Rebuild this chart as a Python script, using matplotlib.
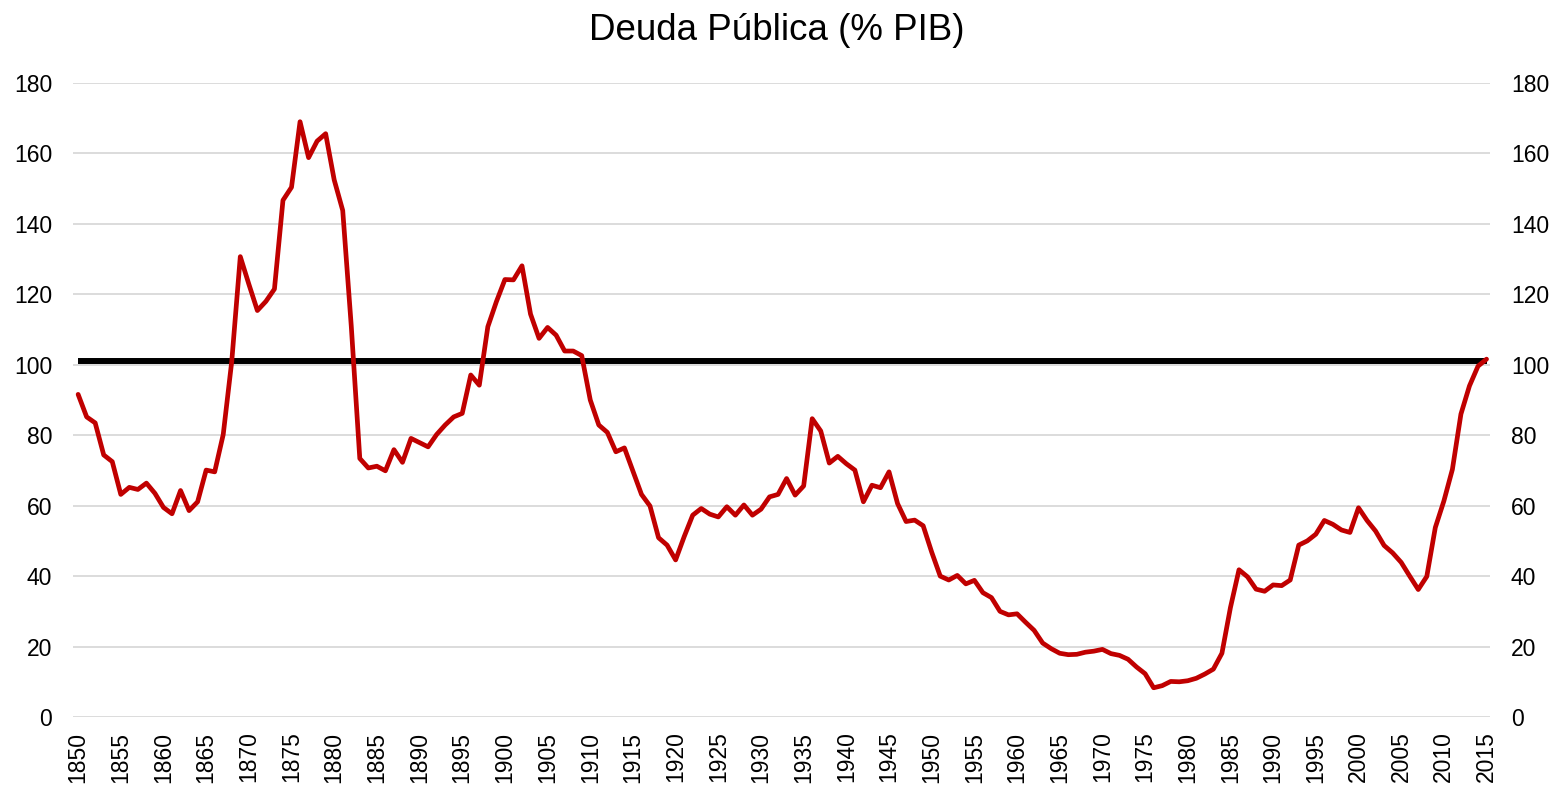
import matplotlib
matplotlib.use("Agg")
import matplotlib.pyplot as plt

plt.rcParams['font.family'] = ['Liberation Sans', 'DejaVu Sans']

# Data (% of GDP, yearly 1850-2015)
years = list(range(1850, 2016))
deuda_pib = [
    91.6, 85.2, 83.5, 74.4, 72.5, 63.2, 65.2, 64.6, 66.4, 63.5,      # 1850s
    59.5, 57.7, 64.3, 58.6, 61.1, 70.1, 69.6, 80.2, 101.0, 130.7,    # 1860s
    122.9, 115.4, 118.0, 121.5, 146.7, 150.4, 169.0, 158.8, 163.5, 165.6,  # 1870s
    152.5, 143.8, 111.0, 73.4, 70.7, 71.2, 69.9, 75.9, 72.3, 79.1,   # 1880s
    77.9, 76.7, 80.2, 82.9, 85.2, 86.2, 97.1, 94.2, 110.8, 117.9,    # 1890s
    124.2, 124.1, 128.1, 114.4, 107.5, 110.6, 108.4, 103.9, 103.9, 102.6,  # 1900s
    90.0, 82.9, 80.8, 75.3, 76.4, 69.8, 63.2, 59.9, 50.9, 48.8,      # 1910s
    44.6, 51.2, 57.3, 59.2, 57.6, 56.8, 59.7, 57.3, 60.2, 57.3,      # 1920s
    59.0, 62.5, 63.2, 67.7, 63.0, 65.6, 84.7, 81.2, 72.1, 74.0,      # 1930s
    71.9, 70.1, 61.1, 65.8, 65.1, 69.6, 60.6, 55.5, 55.9, 54.3,      # 1940s
    46.8, 40.0, 38.9, 40.2, 37.8, 38.8, 35.3, 33.9, 30.0, 29.0,      # 1950s
    29.3, 26.9, 24.6, 21.0, 19.4, 18.1, 17.7, 17.8, 18.4, 18.7,      # 1960s
    19.2, 18.0, 17.5, 16.4, 14.2, 12.3, 8.3, 8.9, 10.1, 10.0,        # 1970s
    10.3, 11.0, 12.2, 13.6, 18.1, 31.1, 41.8, 39.8, 36.3, 35.7,      # 1980s
    37.5, 37.3, 38.9, 48.8, 50.0, 51.9, 55.8, 54.7, 53.1, 52.4,      # 1990s
    59.4, 55.8, 52.8, 48.7, 46.6, 43.9, 40.0, 36.2, 39.9, 53.8,      # 2000s
    61.3, 70.3, 86.0, 94.0, 99.6, 101.6,                             # 2010s
]
nivel_referencia = [101.0] * len(years)

y_ticks = list(range(0, 181, 20))
x_ticks = list(range(1850, 2016, 5))

fig = plt.figure(figsize=(15.53, 7.85), dpi=100)
ax = fig.add_axes([0.047, 0.0866, 0.9124, 0.8077])

ax.plot(years, nivel_referencia, color='black', linewidth=4.3, solid_capstyle='butt', zorder=3)
ax.plot(years, deuda_pib, color='#C00000', linewidth=3.4,
        solid_joinstyle='round', solid_capstyle='round', zorder=4)

ax.set_xlim(1849.4, 2015.4)
ax.set_ylim(0, 180)
ax.set_yticks(y_ticks)
ax.set_xticks(x_ticks)
ax.set_xticklabels([str(y) for y in x_ticks], rotation=90)

ax.grid(axis='y', color='#D9D9D9', linewidth=1.3)
ax.set_axisbelow(True)
for side in ['top', 'right', 'left', 'bottom']:
    ax.spines[side].set_visible(False)

ax.tick_params(axis='y', length=0, pad=15, labelsize=16.5, labelright=True, labelleft=True)
ax.tick_params(axis='x', length=0, pad=10.5, labelsize=16.5)

fig.text(0.5, 1 - 30 / 785, 'Deuda Pública (% PIB)', ha='center', va='center', fontsize=26.5)

fig.savefig('out.png', dpi=100)
